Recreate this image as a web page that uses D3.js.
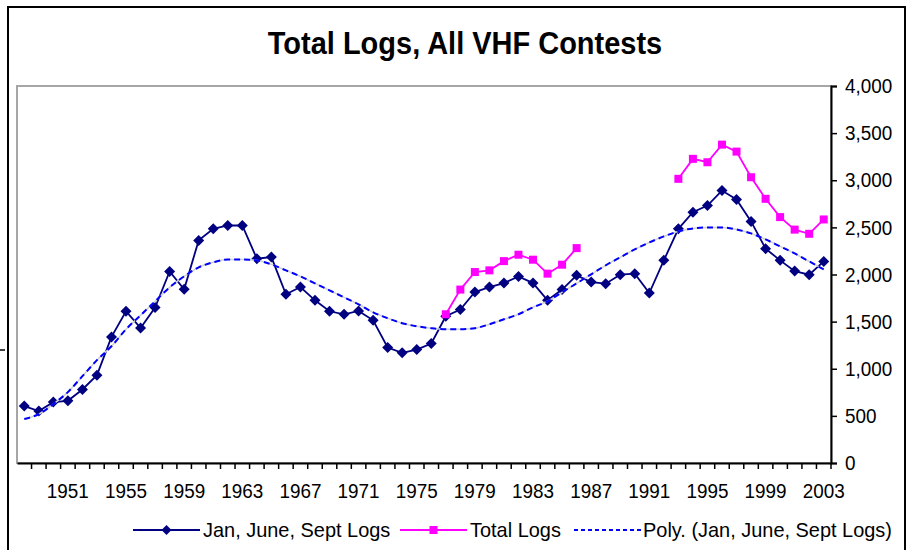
<!doctype html>
<html>
<head>
<meta charset="utf-8"/>
<title>Total Logs, All VHF Contests</title>
<style>
body{margin:0;background:#fff;}
text{font-family:"Liberation Sans",Arial,sans-serif;}
</style>
<script src="https://d3js.org/d3.v7.min.js"></script>
</head>
<body>
<script>
// years 1948..2003
var years = [];
for (var yr = 1948; yr <= 2003; yr++) years.push(yr);

// Jan, June, Sept Logs
var jjsLogs = [604, 551, 646, 660, 780, 932, 1338, 1610, 1433, 1649,
  2033, 1843, 2362, 2485, 2520, 2520, 2168, 2185, 1790, 1867,
  1726, 1610, 1578, 1613, 1514, 1225, 1169, 1204, 1268, 1557,
  1628, 1814, 1867, 1909, 1980, 1909, 1726, 1840, 1991, 1920,
  1903, 1998, 2009, 1803, 2150, 2485, 2661, 2732, 2891, 2796,
  2563, 2274, 2150, 2036, 1998, 2139];

// Total Logs (null = not reported)
var totalLogs = [null, null, null, null, null, null, null, null, null, null,
  null, null, null, null, null, null, null, null, null, null,
  null, null, null, null, null, null, null, null, null, 1578,
  1840, 2026, 2044, 2142, 2210, 2157, 2009, 2104, 2280, null,
  null, null, null, null, null, 3015, 3227, 3191, 3378, 3304,
  3032, 2803, 2609, 2476, 2432, 2584];

// Poly. trendline
var polyTrend = [466, 519, 625, 752, 921, 1091, 1239, 1419, 1567, 1716,
  1864, 1980, 2076, 2129, 2160, 2160, 2150, 2107, 2044, 1980,
  1906, 1832, 1758, 1684, 1599, 1536, 1483, 1451, 1430, 1419,
  1419, 1430, 1472, 1525, 1578, 1652, 1716, 1811, 1906, 2002,
  2097, 2182, 2266, 2340, 2404, 2457, 2489, 2499, 2499, 2478,
  2436, 2372, 2298, 2223, 2139, 2054];

var yearLabels = [1951, 1955, 1959, 1963, 1967, 1971, 1975, 1979, 1983, 1987, 1991, 1995, 1999, 2003];
var yTicks = [0, 500, 1000, 1500, 2000, 2500, 3000, 3500, 4000];
var legendNames = ["Jan, June, Sept Logs", "Total Logs", "Poly. (Jan, June, Sept Logs)"];

var W = 909, H = 550;
var SX = 0.9;   // tick labels are a bit squeezed sideways
var SXL = 0.95; // legend text
var svg = d3.select("body").append("svg").attr("width", W).attr("height", H);

svg.append("rect").attr("x", 0).attr("y", 0).attr("width", W).attr("height", H).attr("fill", "#fff");
// chart frame
svg.append("rect").attr("x", 8).attr("y", 7).attr("width", 897).attr("height", 560)
  .attr("fill", "none").attr("stroke", "#000").attr("stroke-width", 2);
svg.append("line").attr("x1", 0).attr("x2", 5).attr("y1", 350).attr("y2", 350).attr("stroke", "#000").attr("stroke-width", 1.5);

var L = 17, R = 831, T = 86, B = 463;
var x = d3.scaleBand().domain(years).range([L, R]);
var y = d3.scaleLinear().domain([0, 4000]).range([B, T]);
var cx = function(i){ return x(years[i]) + x.bandwidth() / 2; };

// plot area border
svg.append("rect").attr("x", L).attr("y", T).attr("width", R - L).attr("height", B - T)
  .attr("fill", "none").attr("stroke", "#a6a6a6").attr("stroke-width", 2);

// title
svg.append("text").attr("transform", "translate(465,54) scale(0.935,1)")
  .attr("text-anchor", "middle").attr("font-size", 31).attr("font-weight", "bold")
  .text("Total Logs, All VHF Contests");

// x axis
var xAxis = svg.append("g").attr("transform", "translate(0," + B + ")")
  .call(d3.axisBottom(x).tickValues(yearLabels).tickSize(0).tickPadding(20));
xAxis.select(".domain").attr("stroke", "#000").attr("stroke-width", 2);
xAxis.selectAll("text").attr("font-size", 21).attr("fill", "#000")
  .attr("transform", "scale(" + SX + ",1)");
// category boundary ticks
svg.append("g").selectAll("line").data(years.slice(1).concat(["end"])).enter().append("line")
  .attr("x1", function(d){ return d === "end" ? R : x(d); })
  .attr("x2", function(d){ return d === "end" ? R : x(d); })
  .attr("y1", B).attr("y2", B + 6)
  .attr("stroke", "#000").attr("stroke-width", 1.5);

// y axis (right)
var yAxis = svg.append("g").attr("transform", "translate(" + R + ",0)")
  .call(d3.axisRight(y).tickValues(yTicks).tickSize(6).tickPadding(8).tickFormat(d3.format(",")));
yAxis.select(".domain").attr("stroke", "#000").attr("stroke-width", 2);
yAxis.selectAll(".tick line").attr("stroke", "#000").attr("stroke-width", 1.5);
yAxis.selectAll("text").attr("font-size", 21).attr("fill", "#000")
  .attr("x", 14 / SX).attr("transform", "scale(" + SX + ",1)");

// series
var lineGen = d3.line()
  .defined(function(d){ return d != null; })
  .x(function(d, i){ return cx(i); })
  .y(function(d){ return y(d); });

svg.append("path").datum(jjsLogs).attr("d", lineGen)
  .attr("fill", "none").attr("stroke", "#000080").attr("stroke-width", 1.8);
svg.append("path").datum(totalLogs).attr("d", lineGen)
  .attr("fill", "none").attr("stroke", "#ff00ff").attr("stroke-width", 1.8);

svg.append("g").selectAll("path").data(jjsLogs).enter().append("path")
  .attr("d", "M0,-5.5L5.5,0L0,5.5L-5.5,0Z")
  .attr("transform", function(d, i){ return "translate(" + cx(i) + "," + y(d) + ")"; })
  .attr("fill", "#000080");

svg.append("g").selectAll("rect").data(totalLogs.map(function(d, i){ return {v: d, i: i}; })
    .filter(function(d){ return d.v != null; }))
  .enter().append("rect")
  .attr("x", function(d){ return cx(d.i) - 4; })
  .attr("y", function(d){ return y(d.v) - 4; })
  .attr("width", 8).attr("height", 8).attr("fill", "#ff00ff");

// trendline
var trendGen = d3.line().curve(d3.curveMonotoneX)
  .x(function(d, i){ return cx(i); })
  .y(function(d){ return y(d); });
svg.append("path").datum(polyTrend).attr("d", trendGen)
  .attr("fill", "none").attr("stroke", "#d0d0d0").attr("stroke-width", 1.5);
svg.append("path").datum(polyTrend).attr("d", trendGen)
  .attr("fill", "none").attr("stroke", "#0000ff").attr("stroke-width", 2)
  .attr("stroke-dasharray", "6,4");

// legend
var legX = [133, 400, 574];
var textX = [203, 470, 643];
var legY = 530;
var lg = svg.append("g");
legendNames.forEach(function(name, k){
  var ln = lg.append("line").attr("x1", legX[k]).attr("x2", legX[k] + 67)
    .attr("y1", legY).attr("y2", legY).attr("stroke-width", 2);
  var mid = legX[k] + 33.5;
  if (k === 0) {
    ln.attr("stroke", "#000080");
    lg.append("path").attr("d", "M0,-5L5,0L0,5L-5,0Z").attr("transform", "translate(" + mid + "," + legY + ")").attr("fill", "#000080");
  } else if (k === 1) {
    ln.attr("stroke", "#ff00ff");
    lg.append("rect").attr("x", mid - 4).attr("y", legY - 4).attr("width", 8).attr("height", 8).attr("fill", "#ff00ff");
  } else {
    ln.attr("stroke", "#0000ff").attr("stroke-dasharray", "4,3");
  }
  lg.append("text").attr("transform", "translate(" + textX[k] + "," + (legY + 7) + ") scale(" + SXL + ",1)")
    .attr("font-size", 21).text(name);
});
</script>
</body>
</html>
